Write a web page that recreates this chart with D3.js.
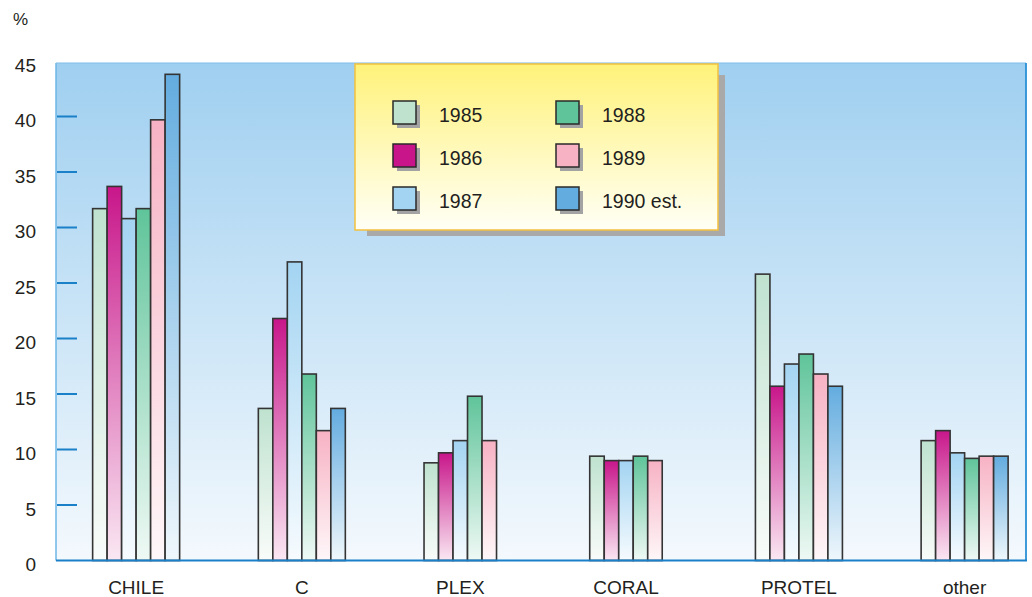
<!DOCTYPE html>
<html>
<head>
<meta charset="utf-8">
<script src="https://cdn.jsdelivr.net/npm/d3@7"></script>
<style>
  html, body { margin: 0; padding: 0; background: #ffffff; overflow: hidden; }
  svg { display: block; font-family: "Liberation Sans", Arial, Helvetica, sans-serif; }
</style>
</head>
<body>
<svg id="chart" width="1032" height="597"></svg>
<script>
// Market share by product line, in percent
const categories = ["CHILE", "C", "PLEX", "CORAL", "PROTEL", "other"];
const years = ["1985", "1986", "1987", "1988", "1989", "1990 est."];

const share1985 = [31.7, 13.7, 8.8, 9.4, 25.8, 10.8];
const share1986 = [33.7, 21.8, 9.7, 9.0, 15.7, 11.7];
const share1987 = [30.8, 26.9, 10.8, 9.0, 17.7, 9.7];
const share1988 = [31.7, 16.8, 14.8, 9.4, 18.6, 9.2];
const share1989 = [39.7, 11.7, 10.8, 9.0, 16.8, 9.4];
const share1990 = [43.8, 13.7, null, null, 15.7, 9.4];

const yTicks = [0, 5, 10, 15, 20, 25, 30, 35, 40, 45];
const seriesColors = ["#bfe2cf", "#c8168a", "#a3d4f2", "#5fc49a", "#f7b2c4", "#63acdf"];

const seriesValues = [share1985, share1986, share1987, share1988, share1989, share1990];

const svg = d3.select("#chart");
const defs = svg.append("defs");

// plot frame
const plot = { left: 56, right: 1026, top: 63, bottom: 560.5 };

const y = d3.scaleLinear().domain([0, 45]).range([plot.bottom, 61]);

const x0 = d3.scaleBand()
  .domain(categories)
  .range([plot.left, plot.right])
  .paddingInner(0.475)
  .paddingOuter(0.1645)
  .align(0.672);

const x1 = d3.scaleBand().domain(years).range([0, x0.bandwidth()]);

// background gradient of the plot area
const bg = defs.append("linearGradient").attr("id", "bgGrad")
  .attr("x1", 0).attr("y1", 0).attr("x2", 0).attr("y2", 1);
bg.append("stop").attr("offset", "0%").attr("stop-color", "#9fcff0");
bg.append("stop").attr("offset", "100%").attr("stop-color", "#f4f9fd");

svg.append("rect")
  .attr("x", plot.left).attr("y", plot.top)
  .attr("width", plot.right - plot.left).attr("height", plot.bottom - plot.top)
  .attr("fill", "url(#bgGrad)");

// frame lines
svg.append("line")
  .attr("x1", plot.left).attr("x2", plot.left)
  .attr("y1", plot.top).attr("y2", plot.bottom)
  .attr("stroke", "#6cb6e6").attr("stroke-width", 1.5);
svg.append("line")
  .attr("x1", plot.left).attr("x2", plot.right)
  .attr("y1", plot.top).attr("y2", plot.top)
  .attr("stroke", "#80bde6").attr("stroke-width", 1);
svg.append("line")
  .attr("x1", plot.right).attr("x2", plot.right)
  .attr("y1", plot.top).attr("y2", plot.bottom)
  .attr("stroke", "#2a8fd6").attr("stroke-width", 1.8);

// bar gradients: full colour at the top, fading to white at the base
seriesColors.forEach((c, i) => {
  const g = defs.append("linearGradient").attr("id", "barGrad" + i)
    .attr("x1", 0).attr("y1", 0).attr("x2", 0).attr("y2", 1);
  g.append("stop").attr("offset", "0%").attr("stop-color", c);
  g.append("stop").attr("offset", "100%").attr("stop-color", d3.interpolateRgb(c, "#ffffff")(0.9));
});

// y axis ticks and labels
const yAxis = d3.axisLeft(y).tickValues(yTicks).tickSize(0).tickFormat(d3.format("d"));
const yg = svg.append("g");
yTicks.filter(t => t > 0 && t < 45).forEach(t => {
  yg.append("line")
    .attr("x1", plot.left + 1).attr("x2", 77)
    .attr("y1", y(t)).attr("y2", y(t))
    .attr("stroke", "#1a80c8").attr("stroke-width", 2);
});
const axisG = svg.append("g").attr("transform", "translate(36,4)").call(yAxis);
axisG.select(".domain").remove();
axisG.selectAll("text")
  .attr("x", 0)
  .attr("font-size", 19)
  .attr("font-family", "'Liberation Sans', Arial, sans-serif")
  .attr("fill", "#231f20");

svg.append("text")
  .attr("x", 13).attr("y", 25)
  .attr("font-size", 17).attr("fill", "#231f20")
  .text("%");

// bars
const groups = svg.append("g").selectAll("g")
  .data(categories)
  .join("g")
  .attr("transform", d => `translate(${x0(d)},0)`);

groups.selectAll("rect")
  .data((c, ci) => years.map((yr, si) => ({ yr, si, v: seriesValues[si][ci] })).filter(d => d.v != null))
  .join("rect")
  .attr("x", d => x1(d.yr))
  .attr("y", d => y(d.v))
  .attr("width", x1.bandwidth())
  .attr("height", d => plot.bottom - y(d.v))
  .attr("fill", d => `url(#barGrad${d.si})`)
  .attr("stroke", "#343434")
  .attr("stroke-width", 1.6);

// baseline
svg.append("line")
  .attr("x1", plot.left).attr("x2", plot.right + 1)
  .attr("y1", plot.bottom).attr("y2", plot.bottom)
  .attr("stroke", "#1a80c8").attr("stroke-width", 2);

// category labels, centred on the bars present in each group
svg.append("g").selectAll("text")
  .data(categories)
  .join("text")
  .attr("x", (c, ci) => {
    const n = seriesValues.filter(s => s[ci] != null).length;
    return x0(c) + x1.step() * n / 2;
  })
  .attr("y", 594)
  .attr("text-anchor", "middle")
  .attr("font-size", 19)
  .attr("fill", "#231f20")
  .text(d => d);

// legend
const lg = { x: 355, y: 64, w: 363, h: 166 };
const legGrad = defs.append("linearGradient").attr("id", "legGrad")
  .attr("x1", 0).attr("y1", 0).attr("x2", 0).attr("y2", 1);
legGrad.append("stop").attr("offset", "0%").attr("stop-color", "#fff27a");
legGrad.append("stop").attr("offset", "100%").attr("stop-color", "#fffff6");

svg.append("rect")
  .attr("x", lg.x + 12).attr("y", lg.y + 11)
  .attr("width", lg.w - 5).attr("height", lg.h - 5)
  .attr("fill", "#a9a9a9");
svg.append("rect")
  .attr("x", lg.x).attr("y", lg.y)
  .attr("width", lg.w).attr("height", lg.h)
  .attr("fill", "url(#legGrad)")
  .attr("stroke", "#f4c13e").attr("stroke-width", 1.5);

const legendItems = svg.append("g").selectAll("g")
  .data(years)
  .join("g")
  .attr("transform", (d, i) => {
    const col = Math.floor(i / 3), row = i % 3;
    return `translate(${lg.x + 38 + col * 163},${lg.y + 37 + row * 43})`;
  });
legendItems.append("rect")
  .attr("x", 4).attr("y", 4).attr("width", 23).attr("height", 23)
  .attr("fill", "#a3a3a3");
legendItems.append("rect")
  .attr("x", 0).attr("y", 0).attr("width", 23).attr("height", 23)
  .attr("fill", (d, i) => seriesColors[i])
  .attr("stroke", "#2a2a2a").attr("stroke-width", 1.5);
legendItems.append("text")
  .attr("x", 46).attr("y", 21)
  .attr("font-size", 19.5)
  .attr("fill", "#231f20")
  .text(d => d);
</script>
</body>
</html>
